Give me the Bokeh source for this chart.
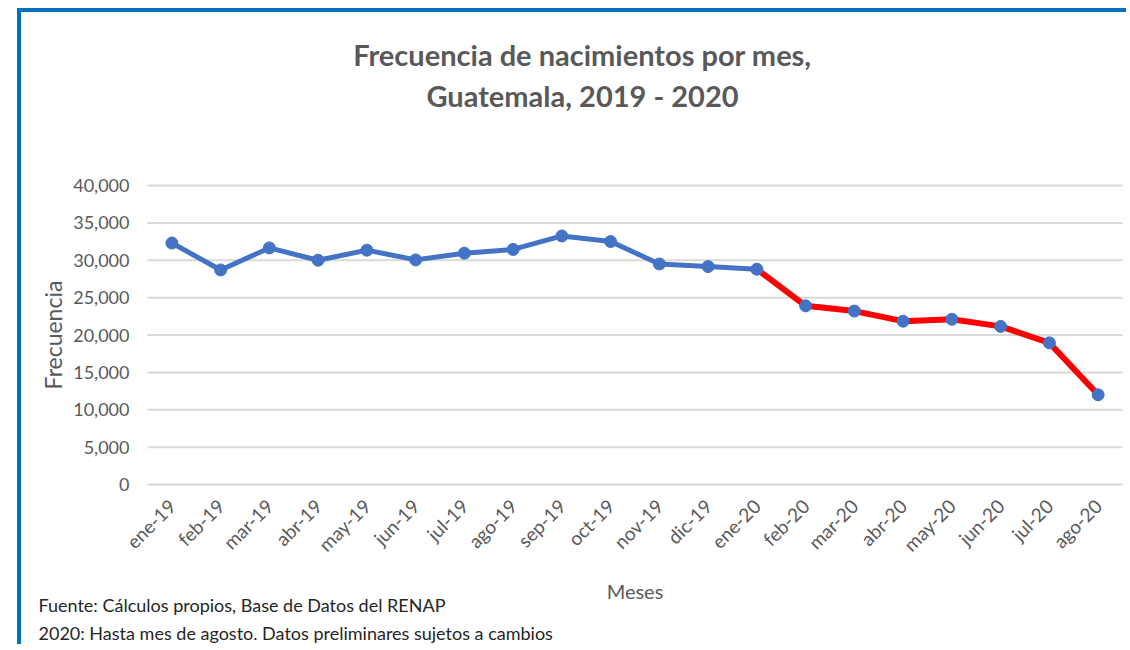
import math
from bokeh.plotting import figure
from bokeh.models import (Label, NumeralTickFormatter, FixedTicker, LinearAxis,
                          Range1d)
from bokeh.embed import file_html
from bokeh.resources import INLINE

# ---- data ----
meses = ["ene-19", "feb-19", "mar-19", "abr-19", "may-19", "jun-19", "jul-19",
         "ago-19", "sep-19", "oct-19", "nov-19", "dic-19", "ene-20", "feb-20",
         "mar-20", "abr-20", "may-20", "jun-20", "jul-20", "ago-20"]
nacimientos = [32300, 28700, 31650, 30000, 31350, 30050, 30950, 31450, 33250,
               32500, 29500, 29150, 28800, 23900, 23200, 21850, 22100, 21150,
               18950, 12000]
y_ticks = [0, 5000, 10000, 15000, 20000, 25000, 30000, 35000, 40000]
corte = 12  # index of ene-20, where the 2020 (red) segment starts

titulo1 = "Frecuencia de nacimientos por mes,"
titulo2 = "Guatemala, 2019 - 2020"
nota1 = "Fuente: Cálculos propios, Base de Datos del RENAP"
nota2 = "2020: Hasta mes de agosto. Datos preliminares sujetos a cambios"

# ---- layout (pixels on the canvas) ----
FONT = "Lato"
GRAY = "#595959"
W, H = 1109, 636
PLOT_LEFT, PLOT_RIGHT = 126, 1101     # plot area edges
PLOT_TOP, PLOT_BOTTOM = 173, 472      # rows of y_max and 0
n = len(meses)
px_cat = (PLOT_RIGHT - PLOT_LEFT) / n
y_max = y_ticks[-1]
px_val = (PLOT_BOTTOM - PLOT_TOP) / y_max

x_range = Range1d(-0.5 - PLOT_LEFT / px_cat, -0.5 + (W - PLOT_LEFT) / px_cat)
y_range = Range1d(-(H - PLOT_BOTTOM) / px_val, y_max + PLOT_TOP / px_val)

p = figure(x_range=x_range, y_range=y_range, width=W, height=H,
           output_backend="svg", toolbar_location=None,
           x_axis_location=None, y_axis_location=None,
           min_border=0, min_border_left=0, min_border_right=0,
           min_border_top=0, min_border_bottom=0)
p.styles = {"border-top": "4px solid #0070C0", "border-left": "4px solid #0070C0",
            "margin-left": "17px", "margin-top": "8px"}
p.outline_line_color = None
p.background_fill_color = "white"
p.border_fill_color = "white"
p.grid.visible = False

x_idx = list(range(n))

# horizontal gridlines over the plot area
p.segment(x0=[-0.5] * len(y_ticks), x1=[n - 0.5] * len(y_ticks), y0=y_ticks, y1=y_ticks,
          line_color="#D9D9D9", line_width=2)

# y axis
yax = LinearAxis(fixed_location=-0.5, bounds=(0, y_max),
                 ticker=FixedTicker(ticks=y_ticks),
                 formatter=NumeralTickFormatter(format="0,0"))
yax.axis_line_color = None
yax.major_tick_line_color = None
yax.minor_tick_line_color = None
yax.major_label_text_font = FONT
yax.major_label_text_font_size = "18px"
yax.major_label_text_color = GRAY
yax.major_label_standoff = 12
yax.axis_label = "Frecuencia"
yax.axis_label_text_font = FONT
yax.axis_label_text_font_size = "23px"
yax.axis_label_text_font_style = "normal"
yax.axis_label_text_color = GRAY
yax.axis_label_standoff = 3
p.add_layout(yax, "left")

# x axis
xax = LinearAxis(fixed_location=0, bounds=(-0.5, n - 0.5),
                 ticker=FixedTicker(ticks=x_idx),
                 major_label_overrides={i: m for i, m in enumerate(meses)})
xax.axis_line_color = None
xax.major_tick_line_color = None
xax.minor_tick_line_color = None
xax.major_label_orientation = math.pi / 4
xax.major_label_text_font = FONT
xax.major_label_text_font_size = "19px"
xax.major_label_text_color = GRAY
xax.major_label_standoff = 12
xax.axis_label = "Meses"
xax.axis_label_text_font = FONT
xax.axis_label_text_font_size = "20px"
xax.axis_label_text_font_style = "normal"
xax.axis_label_text_color = GRAY
xax.axis_label_standoff = 12
p.add_layout(xax, "below")

# series
p.line(x_idx[:corte + 1], nacimientos[:corte + 1], line_color="#4472C4", line_width=5,
       line_join="round")
p.line(x_idx[corte:], nacimientos[corte:], line_color="#FF0000", line_width=6,
       line_join="round")
p.scatter(x_idx, nacimientos, size=12, fill_color="#4472C4", line_color="#4472C4")

# titles and footnotes (screen units: x from the left, y up from the bottom)
for txt, yy in ((titulo1, H - 42), (titulo2, H - 83)):
    p.add_layout(Label(x=561, y=yy, x_units="screen", y_units="screen", text=txt,
                       text_font=FONT, text_font_size="29px", text_font_style="bold",
                       text_color=GRAY, text_align="center", text_baseline="middle"))
for txt, yy in ((nota1, H - 592), (nota2, H - 620)):
    p.add_layout(Label(x=17, y=yy, x_units="screen", y_units="screen", text=txt,
                       text_font=FONT, text_font_size="18px", text_color="#262626",
                       text_baseline="middle"))

open("out.html", "w").write(file_html(p, INLINE))
